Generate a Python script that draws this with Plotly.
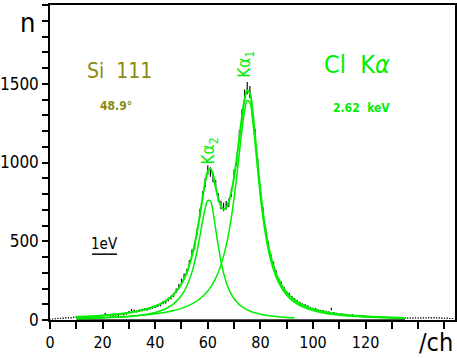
import plotly.graph_objects as go

# Measured spectrum: counts per channel, channels 0..153
channels = list(range(154))
counts = [
    5, 7, 8, 9, 11, 12, 14, 15, 14, 17,
    19, 16, 13, 15, 18, 14, 17, 22, 21, 19,
    27, 38, 30, 26, 28, 33, 31, 37, 35, 40,
    50, 62, 57, 55, 60, 64, 68, 67, 74, 80,
    86, 92, 96, 110, 116, 131, 142, 158, 186, 214,
    247, 278, 306, 362, 428, 470, 561, 680, 790, 870,
    952, 940, 905, 860, 778, 730, 718, 728, 744, 810,
    925, 1010, 1170, 1300, 1425, 1472, 1448, 1318, 1180, 995,
    820, 690, 560, 478, 398, 352, 298, 250, 228, 196,
    170, 160, 140, 128, 118, 106, 96, 92, 85, 76,
    70, 68, 60, 58, 56, 52, 48, 70, 44, 40,
    38, 37, 33, 31, 30, 31, 27, 26, 25, 27,
    24, 22, 21, 20, 21, 19, 18, 17, 18, 16,
    15, 16, 14, 14, 13, 14, 12, 13, 12, 14,
    13, 12, 14, 13, 15, 14, 15, 13, 14, 12,
    11, 12, 10, 9,
]

# Fitted line components sampled along the fit range
fit_ch = [10, 15, 20, 25, 30, 35, 40, 44, 47, 50, 52, 54, 55, 56, 57, 58, 59,
          60, 61, 62, 63, 64, 65, 66, 67, 68, 69, 70, 71, 72, 73, 74, 75, 76,
          77, 78, 79, 80, 81, 82, 83, 84, 86, 88, 90, 93, 96, 100, 105, 110,
          115, 120, 125, 130, 135]
k_alpha1 = [11.7, 13.7, 16.2, 19.6, 24.0, 30.2, 39.1, 49.3, 59.8, 74.0, 86.4,
            102.0, 111.5, 122.2, 134.6, 148.8, 165.3, 184.5, 207.1, 233.7,
            265.6, 303.7, 349.6, 405.3, 473.0, 555.3, 654.8, 773.5, 910.3,
            1059.8, 1206.9, 1327.8, 1393.8, 1381.6, 1278.9, 1120.0, 946.6,
            785.4, 648.2, 536.2, 446.4, 374.8, 271.6, 203.8, 157.6, 112.4,
            83.9, 59.9, 41.9, 30.9, 23.7, 18.8, 15.2, 12.6, 10.6]
k_alpha2 = [8.3, 10.2, 12.9, 16.7, 22.4, 31.7, 47.9, 71.6, 102.1, 155.2, 214.2,
            305.5, 368.3, 444.5, 532.7, 625.8, 708.3, 758.2, 755.2, 685.3,
            578.3, 468.5, 373.9, 298.5, 240.4, 195.9, 161.7, 135.1, 114.3,
            97.7, 84.3, 73.5, 64.5, 57.0, 50.8, 45.5, 41.0, 37.1, 33.7, 30.7,
            28.2, 25.9, 22.1, 19.1, 16.6, 13.8, 11.6, 9.4, 7.4, 6.0, 5.0, 4.2,
            3.6, 3.1, 2.7]
k_alpha2_end = 93
baseline_ch = [10, 135]
baseline = [0, 0]

x_tick_vals = [0, 20, 40, 60, 80, 100, 120]
y_tick_vals = [0, 500, 1000, 1500]

FONT = "Liberation Sans Narrow, DejaVu Sans Condensed, Arial Narrow, sans-serif"
GREEN = "#00ee00"
OLIVE = "#8a8a14"

total = [a + b for a, b in zip(k_alpha1, k_alpha2)]
k2_x = [c for c in fit_ch if c <= k_alpha2_end]
k2_y = k_alpha2[:len(k2_x)]
errors = [v ** 0.5 for v in counts]

fig = go.Figure()

fig.add_trace(go.Scatter(
    x=baseline_ch, y=baseline, mode="lines",
    line=dict(color="#555555", width=2), hoverinfo="skip"))

fig.add_trace(go.Scatter(
    x=channels, y=counts, mode="markers",
    marker=dict(size=1, color="#111111"),
    error_y=dict(type="data", array=errors, visible=True,
                 color="#111111", thickness=1.2, width=0)))

fig.add_trace(go.Scatter(
    x=fit_ch, y=k_alpha1, mode="lines", line_shape="spline",
    line=dict(color=GREEN, width=1.5)))
fig.add_trace(go.Scatter(
    x=k2_x, y=k2_y, mode="lines", line_shape="spline",
    line=dict(color=GREEN, width=1.5)))
fig.add_trace(go.Scatter(
    x=fit_ch, y=total, mode="lines", line_shape="spline",
    line=dict(color=GREEN, width=2)))

annotations = [
    dict(x=26.6, y=1582, xref="x", yref="y", text="Si  111", showarrow=False,
         font=dict(family=FONT, size=21, color=OLIVE)),
    dict(x=25.1, y=1361, xref="x", yref="y", text="<b>48.9°</b>", showarrow=False,
         font=dict(family=FONT, size=12, color=OLIVE)),
    dict(x=116.7, y=1620, xref="x", yref="y", text="Cl  K<i>α</i>", showarrow=False,
         font=dict(family=FONT, size=25, color=GREEN)),
    dict(x=118.3, y=1348, xref="x", yref="y", text="<b>2.62  keV</b>", showarrow=False,
         font=dict(family=FONT, size=12, color=GREEN)),
    dict(x=74.5, y=1627, xref="x", yref="y", text="Kα<sub>1</sub>", showarrow=False,
         textangle=-90, font=dict(family=FONT, size=17, color=GREEN)),
    dict(x=60.8, y=1076, xref="x", yref="y", text="Kα<sub>2</sub>", showarrow=False,
         textangle=-90, font=dict(family=FONT, size=17, color=GREEN)),
    dict(x=20.9, y=485, xref="x", yref="y", text="1eV", showarrow=False,
         font=dict(family=FONT, size=15, color="black")),
    dict(x=-0.08, y=1.0, xref="paper", yref="paper", xanchor="left", yanchor="top",
         text="n", showarrow=False,
         font=dict(family=FONT, size=27, color="black")),
    dict(x=1.0, y=-0.02, xref="paper", yref="paper", xanchor="right", yanchor="top",
         text="/ch", showarrow=False,
         font=dict(family=FONT, size=25, color="black")),
]

fig.update_layout(
    width=457, height=358,
    margin=dict(l=50, r=2, t=5, b=38),
    paper_bgcolor="white", plot_bgcolor="white",
    showlegend=False,
    annotations=annotations,
    shapes=[dict(type="line", xref="x", yref="y", x0=16, x1=25.5, y0=418, y1=418,
                 line=dict(color="black", width=1.5))],
)
fig.update_xaxes(
    range=[0, 154], tickmode="array", tickvals=x_tick_vals,
    ticks="outside", ticklen=7, tickwidth=1.5, tickcolor="black",
    minor=dict(tickmode="linear", tick0=0, dtick=10, ticks="outside",
               ticklen=7, tickwidth=1.5, tickcolor="black", showgrid=False),
    showline=True, linecolor="black", linewidth=1.5, mirror=True,
    showgrid=False, zeroline=False, automargin=False,
    tickfont=dict(family=FONT, size=16, color="black"))
fig.update_yaxes(
    range=[0, 2000], tickmode="array", tickvals=y_tick_vals,
    ticks="outside", ticklen=6, tickwidth=1.5, tickcolor="black",
    minor=dict(tickmode="linear", tick0=0, dtick=100, ticks="outside",
               ticklen=6, tickwidth=1.5, tickcolor="black", showgrid=False),
    showline=True, linecolor="black", linewidth=1.5, mirror=True,
    showgrid=False, zeroline=False, automargin=False,
    tickfont=dict(family=FONT, size=17, color="black"))

fig.write_html("out.html")
